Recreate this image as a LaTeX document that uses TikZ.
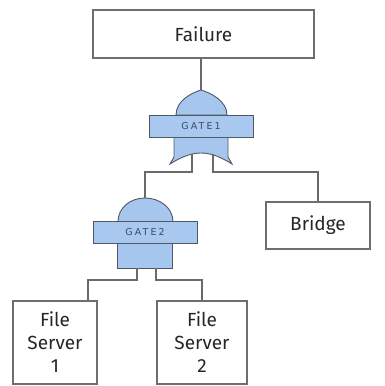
\documentclass[tikz,border=0pt]{standalone}
\usepackage{fontspec}
\setmainfont{Fira Sans}
\newfontfamily\gatefont[LetterSpace=22]{DejaVu Sans}
\definecolor{boxline}{HTML}{6E6E6E}
\definecolor{wire}{HTML}{6A6A6A}
\definecolor{gatefill}{HTML}{A6C6EE}
\definecolor{bandfill}{HTML}{A9C8F0}
\definecolor{gateline}{HTML}{4E5866}
\definecolor{gatetext}{HTML}{3C4A63}
\begin{document}
\begin{tikzpicture}[x=1pt,y=-1pt,
  event/.style={draw=boxline, line width=1.1pt, fill=white, inner sep=0pt,
    align=center, font=\fontsize{19}{23}\selectfont, text=black!85},
  gatebody/.style={draw=gateline, line width=0.9pt, fill=gatefill},
  gateband/.style={draw=gateline, line width=0.9pt, fill=bandfill,
    inner sep=0pt, minimum width=104pt, minimum height=22pt,
    font=\gatefont\fontsize{9.5}{9.5}\selectfont, text=gatetext},
  wireline/.style={draw=wire, line width=1.2pt}]
\useasboundingbox (0,0) rectangle (385,386);

% basic events and top event
\node[event, minimum width=221pt, minimum height=48pt] (fail) at (203.5,34) {Failure};
\node[event, minimum width=104pt, minimum height=47pt] (bridge) at (318,225.5) {Bridge};
\node[event, minimum width=84pt, minimum height=83pt] (fs1) at (55,342.5) {File\\Server\\1};
\node[event, minimum width=90pt, minimum height=83pt] (fs2) at (202,342.5) {File\\Server\\2};

% GATE1: OR gate
\path[gatebody] (176,115) .. controls (176,101) and (191,93) .. (201,90)
  .. controls (211,93) and (227,101) .. (227,115) -- cycle;
\path[gatebody] (174,137) -- (174,157) -- (170,164)
  .. controls (184,155) and (194,153) .. (201,153)
  .. controls (208,153) and (218,155) .. (232,164) -- (228,157) -- (228,137) -- cycle;
\node[gateband] (g1) at (201,126.5) {GATE1};
\coordinate (g1top) at (201,90);
\coordinate (g1in1) at (192,154);
\coordinate (g1in2) at (213,154);

% GATE2: AND gate
\path[gatebody] (118,222) .. controls (118,207) and (131,198) .. (145,198)
  .. controls (159,198) and (173,207) .. (173,222) -- cycle;
\path[gatebody] (117,243) rectangle (172,268);
\node[gateband] (g2) at (145,232.5) {GATE2};
\coordinate (g2top) at (145,198);
\coordinate (g2in1) at (137,268);
\coordinate (g2in2) at (156,268);

% connectors
\draw[wireline] (fail.south -| g1top) -- (g1top);
\draw[wireline] (g1in1) |- (145,172) -- (g2top);
\draw[wireline] (g1in2) |- (bridge.north |- 0,172) -- (bridge.north);
\draw[wireline] (g2in1) |- (88,280) -- (fs1.north -| 88,0);
\draw[wireline] (g2in2) |- (fs2.north |- 0,280) -- (fs2.north);
\end{tikzpicture}
\end{document}
